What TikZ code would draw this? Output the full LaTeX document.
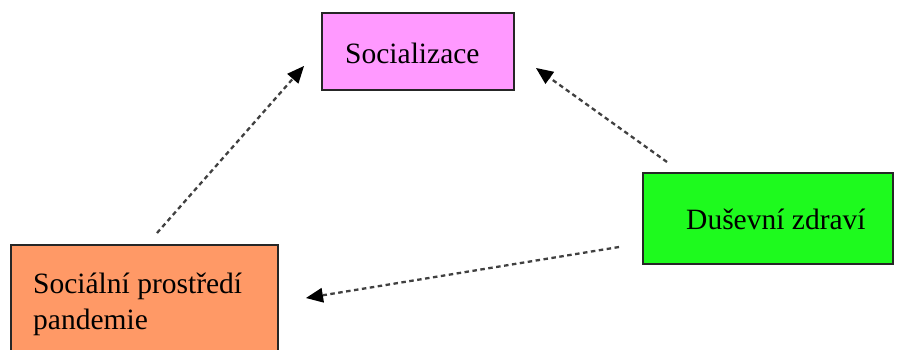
\documentclass[tikz,border=0pt]{standalone}
\usepackage{fontspec}
\setmainfont{Liberation Serif}
\usetikzlibrary{arrows.meta}
\definecolor{pinkbox}{HTML}{FF99FF}
\definecolor{greenbox}{HTML}{1EFA1E}
\definecolor{orangebox}{HTML}{FF9966}
\begin{document}
\begin{tikzpicture}[x=1pt,y=-1pt,
  boxstyle/.style={draw=black!85, line width=1.8pt, inner sep=0pt, outer sep=0pt},
  txt/.style={font=\fontsize{29.5}{36}\selectfont, inner sep=0pt, anchor=base west},
  conn/.style={draw=black!75, line width=2.3pt, dash pattern=on 4.5pt off 3.5pt,
    -{Triangle[length=17pt,width=15pt,fill=black,line width=0pt,sep=0pt]}}]
\useasboundingbox (0,0) rectangle (899,349);
\path[boxstyle, fill=pinkbox] (322,13) rectangle (514,90);
\node[txt] (soc) at (345,63) {Socializace};
\path[boxstyle, fill=greenbox] (643,173) rectangle (893,264);
\node[txt] (dus) at (686,229) {Duševní zdraví};
\path[boxstyle, fill=orangebox] (11,245) rectangle (278,355);
\node[txt] (spp) at (33,293) {Sociální prostředí};
\node[txt] (spp2) at (33,329) {pandemie};
\coordinate (a1s) at (157,233);
\coordinate (a1e) at (304,66);
\coordinate (a2s) at (667,162);
\coordinate (a2e) at (536,68);
\coordinate (a3s) at (619,247);
\coordinate (a3e) at (306,298);
\draw[conn] (a1s) -- (a1e);
\draw[conn] (a2s) -- (a2e);
\draw[conn] (a3s) -- (a3e);
\end{tikzpicture}
\end{document}
